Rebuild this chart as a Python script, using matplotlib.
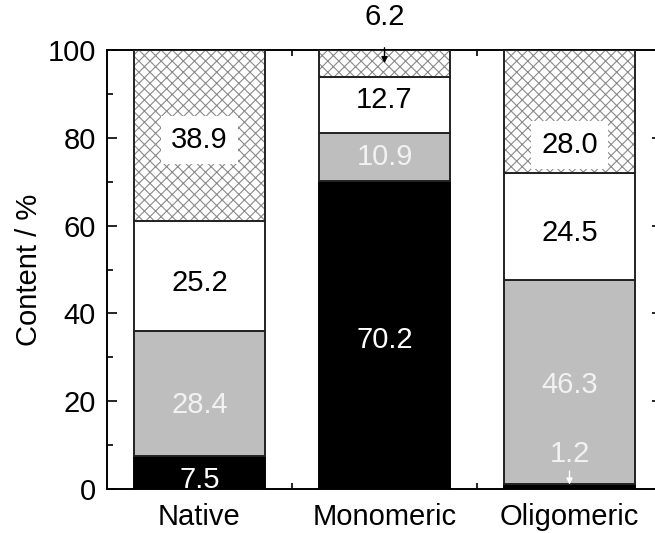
import matplotlib
matplotlib.use("Agg")
import matplotlib.pyplot as plt
import numpy as np

plt.rcParams['font.family'] = ['Liberation Sans', 'DejaVu Sans']

categories = ["Native", "Monomeric", "Oligomeric"]
black_part = [7.5, 70.2, 1.2]
gray_part = [28.4, 10.9, 46.3]
white_part = [25.2, 12.7, 24.5]
hatched_part = [38.9, 6.2, 28.0]

# vertical placement of the value labels (data units), per segment
label_y = {
    "black": [2.0, 34.0, None],
    "gray": [19.2, 75.6, 23.7],
    "white": [47.0, 88.5, 58.3],
    "hatched": [79.5, None, 78.4],
}

fig = plt.figure(figsize=(6.55, 5.33), dpi=100)
ax = fig.add_axes([107/655, 44/533, 555/655, 439/533])

x = np.arange(len(categories))
w = 0.71
gray = "#bebebe"

b0 = np.zeros(3)
b1 = b0 + np.array(black_part)
b2 = b1 + np.array(gray_part)
b3 = b2 + np.array(white_part)

plt.rcParams['hatch.linewidth'] = 0.8
ax.bar(x, black_part, w, bottom=b0, color="black", edgecolor="black", linewidth=1.4, zorder=2)
ax.bar(x, gray_part, w, bottom=b1, color=gray, edgecolor="#222222", linewidth=1.4, zorder=2)
ax.bar(x, white_part, w, bottom=b2, color="white", edgecolor="#222222", linewidth=1.4, zorder=2)
ax.bar(x, hatched_part, w, bottom=b3, color="white", edgecolor="#8a8a8a", hatch="xxx",
       linewidth=0, zorder=2)
ax.bar(x, hatched_part, w, bottom=b3, color="none", edgecolor="#222222", linewidth=1.4, zorder=3)

fs = 21
for i in range(3):
    if label_y["black"][i] is not None:
        ax.text(x[i], label_y["black"][i], f"{black_part[i]:.1f}", ha="center", va="center",
                color="white", fontsize=fs, zorder=5)
    ax.text(x[i], label_y["gray"][i], f"{gray_part[i]:.1f}", ha="center", va="center",
            color="#f2f2f2", fontsize=fs, zorder=5)
    ax.text(x[i], label_y["white"][i], f"{white_part[i]:.1f}", ha="center", va="center",
            color="black", fontsize=fs, zorder=5)
    if label_y["hatched"][i] is not None:
        ax.text(x[i], label_y["hatched"][i], f"{hatched_part[i]:.1f}", ha="center", va="center",
                color="black", fontsize=fs, zorder=5,
                bbox=dict(boxstyle="square,pad=0.35", facecolor="white", edgecolor="none"))

# small segments labelled with arrows
ax.annotate(f"{hatched_part[1]:.1f}", xy=(x[1], 97.0), xytext=(x[1], 107.5),
            ha="center", va="center", fontsize=fs, color="black", annotation_clip=False,
            arrowprops=dict(arrowstyle="-|>", color="black", lw=1.0, mutation_scale=9,
                            shrinkA=10, shrinkB=0), zorder=6)
ax.annotate(f"{black_part[2]:.1f}", xy=(x[2], 1.0), xytext=(x[2], 7.9),
            ha="center", va="center", fontsize=fs, color="#f2f2f2",
            arrowprops=dict(arrowstyle="-|>", color="white", lw=1.0, mutation_scale=9,
                            shrinkA=12, shrinkB=0), zorder=6)

ax.set_xlim(-0.5, 2.5)
ax.set_ylim(0, 100)
ax.set_xticks(x)
ax.set_xticklabels(categories, fontsize=fs)
ax.set_xticks([0.5, 1.5], minor=True)
ax.set_yticks(np.arange(0, 101, 20))
ax.set_yticks(np.arange(10, 100, 20), minor=True)
ax.tick_params(axis="both", which="both", direction="in", top=True, right=True, labelsize=fs)
ax.tick_params(which="major", length=7, width=1.2)
ax.tick_params(which="minor", length=4, width=1.2)
ax.tick_params(axis="y", which="major", pad=8)
ax.tick_params(axis="x", which="major", length=0, pad=10)
ax.set_ylabel("Content / %", fontsize=fs, labelpad=3)
for s in ax.spines.values():
    s.set_linewidth(1.4)

fig.savefig("out.png", dpi=100)
